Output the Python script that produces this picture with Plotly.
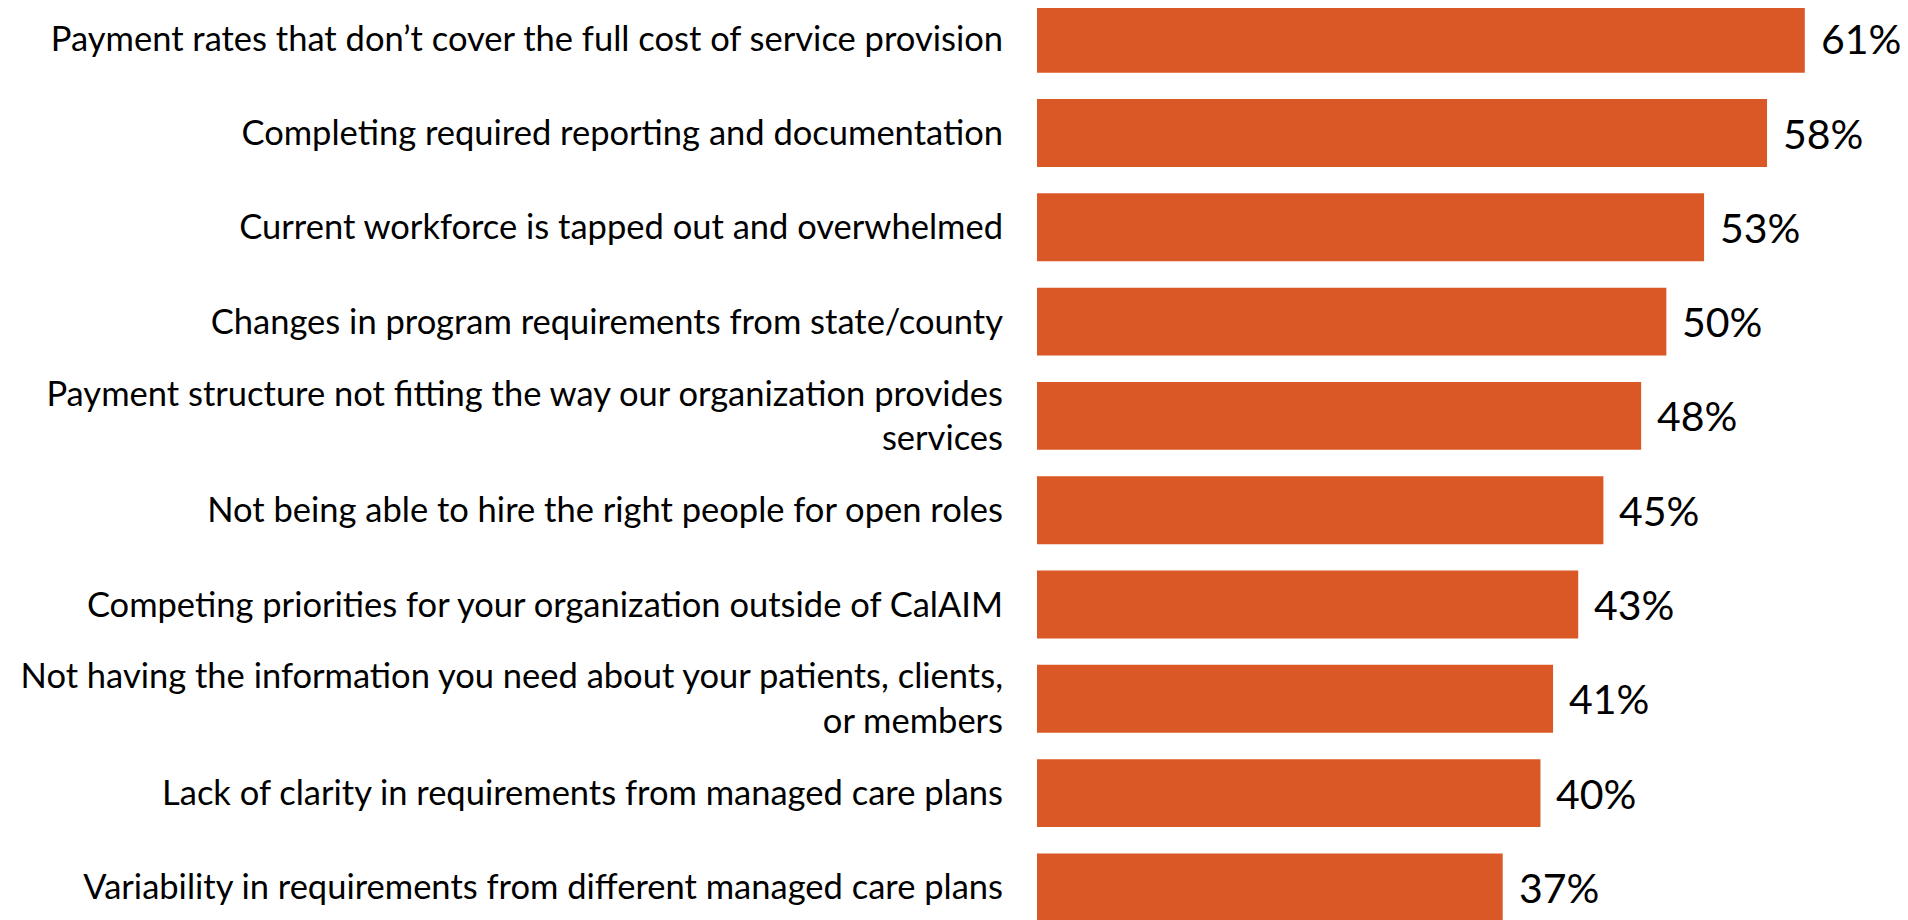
import plotly.graph_objects as go

categories = [
    "Payment rates that don\u2019t cover the full cost of service provision",
    "Completing required reporting and documentation",
    "Current workforce is tapped out and overwhelmed",
    "Changes in program requirements from state/county",
    "Payment structure not fitting the way our organization provides<br>services",
    "Not being able to hire the right people for open roles",
    "Competing priorities for your organization outside of CalAIM",
    "Not having the information you need about your patients, clients,<br>or members",
    "Lack of clarity in requirements from managed care plans",
    "Variability in requirements from different managed care plans",
]
values = [61, 58, 53, 50, 48, 45, 43, 41, 40, 37]
value_labels = [f"{v}%" for v in values]

BAR_COLOR = "#DA5825"
FONT = "Lato"

fig = go.Figure(
    go.Bar(
        y=categories,
        x=values,
        orientation="h",
        marker=dict(color=BAR_COLOR, line=dict(width=0)),
        width=0.72,
        hoverinfo="skip",
    )
)

for c, v, t in zip(categories, values, value_labels):
    fig.add_annotation(
        x=v, y=c, text=t, showarrow=False, xanchor="left", yanchor="middle",
        xshift=14, font=dict(family=FONT, size=41, color="#000000"),
    )

fig.update_layout(
    width=1900, height=912,
    margin=dict(l=1029, r=0, t=0, b=0),
    paper_bgcolor="white", plot_bgcolor="white",
    showlegend=False,
    font=dict(family=FONT, size=34, color="#000000"),
)
fig.update_xaxes(range=[0, 69.2], visible=False, showgrid=False, zeroline=False)
fig.update_yaxes(
    type="category", categoryorder="array", categoryarray=categories,
    range=[9.346, -0.3256], showgrid=False, zeroline=False, showline=False,
    ticks="", ticklabelstandoff=33,
    tickfont=dict(family=FONT, size=34.5, color="#000000"),
)

fig.write_html("out.html")
